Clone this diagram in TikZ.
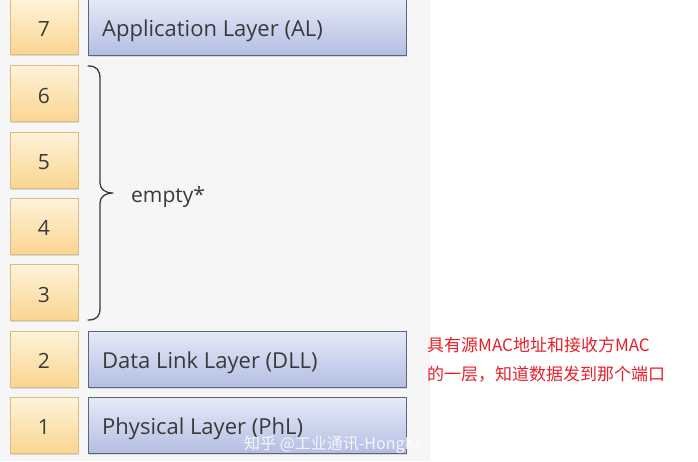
\documentclass[tikz,border=0pt]{standalone}
\usepackage{fontspec}
\setmainfont{Open Sans}
\newfontfamily\cjk{Noto Sans CJK SC}
\usetikzlibrary{shadows}
\definecolor{panelbg}{HTML}{F6F6F6}
\definecolor{numtop}{HTML}{FEF3DA}
\definecolor{numbot}{HTML}{FAD590}
\definecolor{numline}{HTML}{D9BC84}
\definecolor{laytop}{HTML}{E6EAF7}
\definecolor{laybot}{HTML}{B3BEE3}
\definecolor{layline}{HTML}{5D6577}
\definecolor{txt}{HTML}{3A3A3A}
\definecolor{note}{HTML}{E8202A}
\tikzset{
  numbox/.style={draw=numline, line width=0.8pt, top color=numtop, bottom color=numbot,
    minimum width=68pt, minimum height=56pt, inner sep=0pt,
    drop shadow={opacity=0.25, shadow xshift=1pt, shadow yshift=-1.5pt}},
  numtext/.style={anchor=base, inner sep=0pt, text=txt, font=\fontsize{21pt}{23pt}\selectfont},
  laybox/.style={draw=layline, line width=0.9pt, top color=laytop, bottom color=laybot,
    minimum width=318pt, minimum height=56pt, inner sep=0pt,
    drop shadow={opacity=0.25, shadow xshift=1pt, shadow yshift=-1.5pt}},
  laytext/.style={anchor=base west, inner sep=0pt, text=txt, font=\fontsize{22pt}{24pt}\selectfont},
  notetext/.style={text=note, font=\cjk\fontsize{17pt}{29pt}\selectfont, align=left, anchor=west, inner sep=0pt},
}
\begin{document}
\begin{tikzpicture}[x=1pt,y=-1pt]
\useasboundingbox (0,0) rectangle (698,461);
\fill[white] (0,0) rectangle (698,461);
\fill[panelbg] (0,0) rectangle (430,461);

\node[numbox] (n7) at (44,26.5) {};
\node[numbox] (n6) at (44,93.5) {};
\node[numbox] (n5) at (44,160) {};
\node[numbox] (n4) at (44,226) {};
\node[numbox] (n3) at (44,292.5) {};
\node[numbox] (n2) at (44,359) {};
\node[numbox] (n1) at (44,425.5) {};
\node[numtext] (d7) at (44,36.5) {7};
\node[numtext] (d6) at (44,103) {6};
\node[numtext] (d5) at (44,169.5) {5};
\node[numtext] (d4) at (44,235.5) {4};
\node[numtext] (d3) at (44,302) {3};
\node[numtext] (d2) at (44,368) {2};
\node[numtext] (d1) at (44,434) {1};

\node[laybox] (l7) at (247,27) {};
\node[laybox] (l2) at (247,359) {};
\node[laybox] (l1) at (247,425.5) {};
\node[laytext] (t7) at (102,36.5) {Application Layer (AL)};
\node[laytext] (t2) at (102,368) {Data Link Layer (DLL)};
\node[laytext] (t1) at (102,434) {Physical Layer (PhL)};

\draw[line width=1.3pt, color=txt, line cap=round, line join=round]
  (88,66) .. controls (97,66) and (100,70) .. (100,79) -- (100,183)
  .. controls (100,189) and (105,193) .. (113,193)
  .. controls (105,193) and (100,197) .. (100,203) -- (100,308)
  .. controls (100,316) and (97,320) .. (88,320);
\node[anchor=base west, text=txt, font=\fontsize{21pt}{23pt}\selectfont, inner sep=0pt] (empty) at (131,202) {empty*};

\node[notetext] (note) at (427,360) {具有源MAC地址和接收方MAC\\的一层，知道数据发到那个端口};

\node[anchor=west, inner sep=0pt, text=white, opacity=0.85, font=\cjk\fontsize{16pt}{18pt}\selectfont] (wm) at (244,445) {知乎 @工业通讯-HongKe};
\end{tikzpicture}
\end{document}
